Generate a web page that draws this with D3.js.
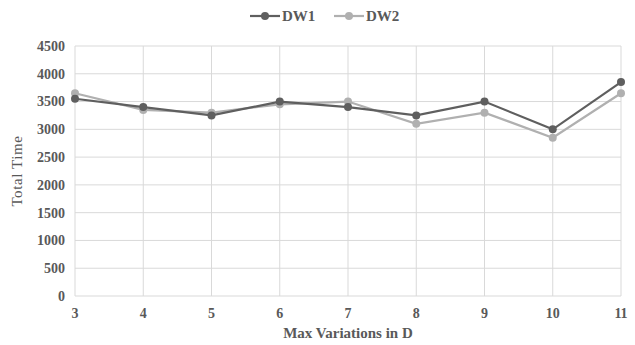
<!DOCTYPE html>
<html>
<head>
<meta charset="utf-8">
<script src="https://cdn.jsdelivr.net/npm/d3@7"></script>
<style>
  body { margin: 0; background: #fff; }
</style>
</head>
<body>
<div id="chart"></div>
<script>
const xValues = [3, 4, 5, 6, 7, 8, 9, 10, 11];
const dw1 = [3550, 3400, 3250, 3500, 3400, 3250, 3500, 3000, 3850];
const dw2 = [3650, 3350, 3300, 3450, 3500, 3100, 3300, 2850, 3650];
const yTicks = [0, 500, 1000, 1500, 2000, 2500, 3000, 3500, 4000, 4500];

const width = 635, height = 345;
const margin = { top: 46, right: 14, bottom: 49, left: 75 };
const serif = "'Liberation Serif', 'Times New Roman', Times, serif";

const svg = d3.select('#chart').append('svg')
  .attr('width', width)
  .attr('height', height)
  .style('font-family', serif);

const x = d3.scaleLinear().domain([3, 11]).range([margin.left, width - margin.right]);
const y = d3.scaleLinear().domain([0, 4500]).range([height - margin.bottom, margin.top]);

const grid = '#d9d9d9';
const textColor = '#595959';

// horizontal gridlines
svg.append('g').selectAll('line')
  .data(yTicks)
  .join('line')
  .attr('x1', x(3)).attr('x2', x(11))
  .attr('y1', d => y(d)).attr('y2', d => y(d))
  .attr('stroke', grid).attr('stroke-width', 1);

// vertical gridlines
svg.append('g').selectAll('line')
  .data(xValues)
  .join('line')
  .attr('x1', d => x(d)).attr('x2', d => x(d))
  .attr('y1', y(0)).attr('y2', y(4500))
  .attr('stroke', grid).attr('stroke-width', 1);

// y tick labels
svg.append('g').selectAll('text')
  .data(yTicks)
  .join('text')
  .attr('x', x(3) - 10)
  .attr('y', d => y(d))
  .attr('dy', '0.35em')
  .attr('text-anchor', 'end')
  .attr('font-family', serif)
  .attr('font-size', 14)
  .attr('font-weight', 'bold')
  .attr('fill', textColor)
  .text(d => d);

// x tick labels
svg.append('g').selectAll('text')
  .data(xValues)
  .join('text')
  .attr('x', d => x(d))
  .attr('y', y(0) + 22)
  .attr('text-anchor', 'middle')
  .attr('font-family', serif)
  .attr('font-size', 14)
  .attr('font-weight', 'bold')
  .attr('fill', textColor)
  .text(d => d);

// axis titles
svg.append('text')
  .attr('x', (x(3) + x(11)) / 2)
  .attr('y', height - 7)
  .attr('text-anchor', 'middle')
  .attr('font-family', serif)
  .attr('font-size', 15)
  .attr('font-weight', 'bold')
  .attr('fill', textColor)
  .text('Max Variations in D');

svg.append('text')
  .attr('transform', `translate(22, ${(y(0) + y(4500)) / 2}) rotate(-90)`)
  .attr('text-anchor', 'middle')
  .attr('font-family', serif)
  .attr('font-size', 15)
  .attr('fill', textColor)
  .attr('letter-spacing', '0.6px')
  .text('Total Time');

const series = [
  { name: 'DW2', values: dw2, color: '#b0b0b0' },
  { name: 'DW1', values: dw1, color: '#5f5f5f' }
];

const line = d3.line()
  .x((d, i) => x(xValues[i]))
  .y(d => y(d));

series.forEach(s => {
  svg.append('path')
    .datum(s.values)
    .attr('fill', 'none')
    .attr('stroke', s.color)
    .attr('stroke-width', 2.2)
    .attr('d', line);
  svg.append('g').selectAll('circle')
    .data(s.values)
    .join('circle')
    .attr('cx', (d, i) => x(xValues[i]))
    .attr('cy', d => y(d))
    .attr('r', 4)
    .attr('fill', s.color);
});

// legend
const legendItems = [
  { name: 'DW1', color: '#5f5f5f', x: 250 },
  { name: 'DW2', color: '#b0b0b0', x: 334 }
];
const lg = svg.append('g');
legendItems.forEach(it => {
  lg.append('line')
    .attr('x1', it.x).attr('x2', it.x + 30)
    .attr('y1', 16).attr('y2', 16)
    .attr('stroke', it.color).attr('stroke-width', 2.2);
  lg.append('circle')
    .attr('cx', it.x + 15).attr('cy', 16).attr('r', 4)
    .attr('fill', it.color);
  lg.append('text')
    .attr('x', it.x + 32).attr('y', 16)
    .attr('dy', '0.35em')
    .attr('font-family', serif)
    .attr('font-size', 15)
    .attr('font-weight', 'bold')
    .attr('fill', textColor)
    .text(it.name);
});
</script>
</body>
</html>
